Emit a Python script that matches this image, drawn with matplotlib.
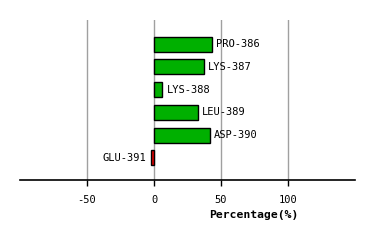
import numpy as np
import matplotlib
matplotlib.use('Agg')
import matplotlib.pyplot as plt

residues = ['PRO-386', 'LYS-387', 'LYS-388', 'LEU-389', 'ASP-390', 'GLU-391']
values = [43.0, 37.0, 6.3, 32.5, 41.5, -2.0]
xticks = [-50, 0, 50, 100]

fig = plt.figure(figsize=(3.74, 2.4), dpi=100)
ax = fig.add_axes([20/374, 60/240, 335/374, 160/240])

colors = ['#00b000' if v >= 0 else '#e00000' for v in values]
y = np.arange(len(residues))
ax.barh(y, values, height=0.66, color=colors, edgecolor='black', linewidth=1.0, zorder=3)

for i, v in enumerate(values):
    if v >= 0:
        ax.annotate(residues[i], (v, i), xytext=(3, 0), textcoords='offset points',
                    ha='left', va='center', family='DejaVu Sans Mono', fontsize=7.5)
    else:
        ax.annotate(residues[i], (v, i), xytext=(-4, 0), textcoords='offset points',
                    ha='right', va='center', family='DejaVu Sans Mono', fontsize=7.5)

ax.set_xlim(-100, 150)
ax.set_ylim(5.98, -1.06)
ax.set_xticks(xticks)
ax.set_xticklabels([str(t) for t in xticks], family='DejaVu Sans Mono', fontsize=7.5)
ax.set_yticks([])
ax.grid(axis='x', color='#a0a0a0', linewidth=1.0, zorder=0)
ax.tick_params(axis='x', length=4.5, width=1.0, pad=6)
for s in ['top', 'left', 'right']:
    ax.spines[s].set_visible(False)
ax.spines['bottom'].set_linewidth(1.2)

fig.text(254/374, 1 - 215/240, 'Percentage(%)', ha='center', va='center',
         family='DejaVu Sans Mono', fontsize=8.2, fontweight='bold')

fig.savefig('out.png', dpi=100)
